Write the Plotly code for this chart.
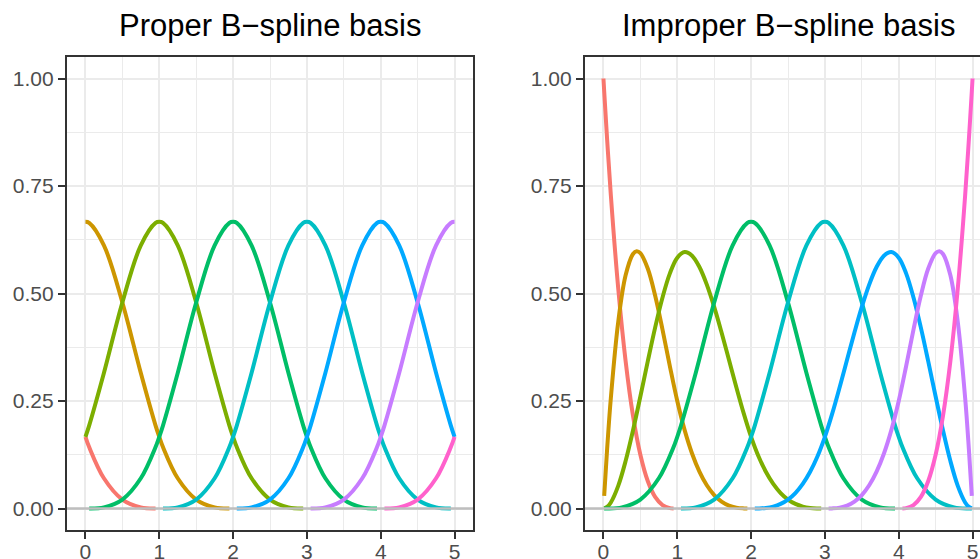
import plotly.graph_objects as go

N = None

# ---------------- data ----------------
# Left panel: proper (uniform-knot) cubic B-spline basis, 8 functions
x_proper = [0, 0.05, 0.25, 0.5, 0.75, 0.95,
            1, 1.05, 1.25, 1.5, 1.75, 1.95,
            2, 2.05, 2.25, 2.5, 2.75, 2.95,
            3, 3.05, 3.25, 3.5, 3.75, 3.95,
            4, 4.05, 4.25, 4.5, 4.75, 4.95,
            5]

proper_1 = [0.16667, 0.1429, 0.07031, 0.02083, 0.0026, 0.00002,
            N, N, N, N, N, N,
            N, N, N, N, N, N,
            N, N, N, N, N, N,
            N, N, N, N, N, N,
            N]
proper_2 = [0.66667, 0.66423, 0.61198, 0.47917, 0.3151, 0.19285,
            0.16667, 0.1429, 0.07031, 0.02083, 0.0026, 0.00002,
            N, N, N, N, N, N,
            N, N, N, N, N, N,
            N, N, N, N, N, N,
            N]
proper_3 = [0.16667, 0.19285, 0.3151, 0.47917, 0.61198, 0.66423,
            0.66667, 0.66423, 0.61198, 0.47917, 0.3151, 0.19285,
            0.16667, 0.1429, 0.07031, 0.02083, 0.0026, 0.00002,
            N, N, N, N, N, N,
            N, N, N, N, N, N,
            N]
proper_4 = [N, 0.00002, 0.0026, 0.02083, 0.07031, 0.1429,
            0.16667, 0.19285, 0.3151, 0.47917, 0.61198, 0.66423,
            0.66667, 0.66423, 0.61198, 0.47917, 0.3151, 0.19285,
            0.16667, 0.1429, 0.07031, 0.02083, 0.0026, 0.00002,
            N, N, N, N, N, N,
            N]
proper_5 = [N, N, N, N, N, N,
            N, 0.00002, 0.0026, 0.02083, 0.07031, 0.1429,
            0.16667, 0.19285, 0.3151, 0.47917, 0.61198, 0.66423,
            0.66667, 0.66423, 0.61198, 0.47917, 0.3151, 0.19285,
            0.16667, 0.1429, 0.07031, 0.02083, 0.0026, 0.00002,
            N]
proper_6 = [N, N, N, N, N, N,
            N, N, N, N, N, N,
            N, 0.00002, 0.0026, 0.02083, 0.07031, 0.1429,
            0.16667, 0.19285, 0.3151, 0.47917, 0.61198, 0.66423,
            0.66667, 0.66423, 0.61198, 0.47917, 0.3151, 0.19285,
            0.16667]
proper_7 = [N, N, N, N, N, N,
            N, N, N, N, N, N,
            N, N, N, N, N, N,
            N, 0.00002, 0.0026, 0.02083, 0.07031, 0.1429,
            0.16667, 0.19285, 0.3151, 0.47917, 0.61198, 0.66423,
            0.66667]
proper_8 = [N, N, N, N, N, N,
            N, N, N, N, N, N,
            N, N, N, N, N, N,
            N, N, N, N, N, N,
            N, 0.00002, 0.0026, 0.02083, 0.07031, 0.1429,
            0.16667]

# Right panel: improper (clamped-knot) cubic B-spline basis, 8 functions
imp_x_1 = [0, 0.01, 0.05, 0.1, 0.2, 0.3, 0.4, 0.5, 0.6, 0.7, 0.8, 0.9, 0.95]
imp_y_1 = [1, 0.9703, 0.85738, 0.729, 0.512, 0.343, 0.216, 0.125, 0.064,
           0.027, 0.008, 0.001, 0.00013]

imp_x_2 = [0.01, 0.05, 0.1, 0.2, 0.3, 0.4, 0.45, 0.5, 0.6, 0.7, 0.8, 0.9,
           1, 1.1, 1.2, 1.3, 1.4, 1.5, 1.6, 1.7, 1.8, 1.9, 1.95]
imp_y_2 = [0.02955, 0.13897, 0.25675, 0.434, 0.54225, 0.592, 0.59822,
           0.59375, 0.558, 0.49525, 0.416, 0.33075,
           0.25, 0.18225, 0.128, 0.08575, 0.054, 0.03125, 0.016, 0.00675,
           0.002, 0.00025, 0.00003]

imp_x_3 = [0.01, 0.05, 0.1, 0.2, 0.3, 0.4, 0.5, 0.6, 0.7, 0.8, 0.9,
           1, 1.1, 1.2, 1.3, 1.4, 1.5, 1.6, 1.7, 1.8, 1.9,
           2, 2.1, 2.2, 2.3, 2.4, 2.5, 2.6, 2.7, 2.8, 2.9, 2.95]
imp_y_3 = [0.00015, 0.00364, 0.01408, 0.05267, 0.11025, 0.18133, 0.26042,
           0.342, 0.42058, 0.49067, 0.54675,
           0.58333, 0.59641, 0.588, 0.56158, 0.52067, 0.46875, 0.40933,
           0.34592, 0.282, 0.22108,
           0.16667, 0.1215, 0.08533, 0.05717, 0.036, 0.02083, 0.01067,
           0.0045, 0.00133, 0.00017, 0.00002]

imp_x_4 = [0.01, 0.05, 0.25, 0.5, 0.75, 0.95,
           1, 1.05, 1.25, 1.5, 1.75, 1.95,
           2, 2.05, 2.25, 2.5, 2.75, 2.95,
           3, 3.05, 3.25, 3.5, 3.75, 3.95]
imp_y_4 = [0.0, 0.00002, 0.0026, 0.02083, 0.07031, 0.1429,
           0.16667, 0.19285, 0.3151, 0.47917, 0.61198, 0.66423,
           0.66667, 0.66423, 0.61198, 0.47917, 0.3151, 0.19285,
           0.16667, 0.1429, 0.07031, 0.02083, 0.0026, 0.00002]

imp_x_5 = [1.05, 1.25, 1.5, 1.75, 1.95,
           2, 2.05, 2.25, 2.5, 2.75, 2.95,
           3, 3.05, 3.25, 3.5, 3.75, 3.95,
           4, 4.05, 4.25, 4.5, 4.75, 4.95, 4.99]
imp_y_5 = [0.00002, 0.0026, 0.02083, 0.07031, 0.1429,
           0.16667, 0.19285, 0.3151, 0.47917, 0.61198, 0.66423,
           0.66667, 0.66423, 0.61198, 0.47917, 0.3151, 0.19285,
           0.16667, 0.1429, 0.07031, 0.02083, 0.0026, 0.00002, 0.0]

imp_x_6 = [2.05, 2.1, 2.2, 2.3, 2.4, 2.5, 2.6, 2.7, 2.8, 2.9,
           3, 3.1, 3.2, 3.3, 3.4, 3.5, 3.6, 3.7, 3.8, 3.9,
           4, 4.1, 4.2, 4.3, 4.4, 4.5, 4.6, 4.7, 4.8, 4.9, 4.95, 4.99]
imp_y_6 = [0.00002, 0.00017, 0.00133, 0.0045, 0.01067, 0.02083, 0.036,
           0.05717, 0.08533, 0.1215,
           0.16667, 0.22108, 0.282, 0.34592, 0.40933, 0.46875, 0.52067,
           0.56158, 0.588, 0.59641,
           0.58333, 0.54675, 0.49067, 0.42058, 0.342, 0.26042, 0.18133,
           0.11025, 0.05267, 0.01408, 0.00364, 0.00015]

imp_x_7 = [3.05, 3.1, 3.2, 3.3, 3.4, 3.5, 3.6, 3.7, 3.8, 3.9,
           4, 4.1, 4.2, 4.3, 4.4, 4.5, 4.55, 4.6, 4.7, 4.8, 4.9, 4.95, 4.99]
imp_y_7 = [0.00003, 0.00025, 0.002, 0.00675, 0.016, 0.03125, 0.054,
           0.08575, 0.128, 0.18225,
           0.25, 0.33075, 0.416, 0.49525, 0.558, 0.59375, 0.59822, 0.592,
           0.54225, 0.434, 0.25675, 0.13897, 0.02955]

imp_x_8 = [4.05, 4.1, 4.2, 4.3, 4.4, 4.5, 4.6, 4.7, 4.8, 4.9, 4.95, 4.99, 5]
imp_y_8 = [0.00013, 0.001, 0.008, 0.027, 0.064, 0.125, 0.216, 0.343,
           0.512, 0.729, 0.85738, 0.9703, 1]

proper_series = [proper_1, proper_2, proper_3, proper_4,
                 proper_5, proper_6, proper_7, proper_8]
improper_series = [(imp_x_1, imp_y_1), (imp_x_2, imp_y_2), (imp_x_3, imp_y_3),
                   (imp_x_4, imp_y_4), (imp_x_5, imp_y_5), (imp_x_6, imp_y_6),
                   (imp_x_7, imp_y_7), (imp_x_8, imp_y_8)]

titles = ["Proper B\u2212spline basis", "Improper B\u2212spline basis"]
x_ticks = [0, 1, 2, 3, 4, 5]
x_ticktext = ["0", "1", "2", "3", "4", "5"]
y_ticks = [0, 0.25, 0.5, 0.75, 1.0]
y_ticktext = ["0.00", "0.25", "0.50", "0.75", "1.00"]
x_minor = [0.5, 1.5, 2.5, 3.5, 4.5]
y_minor = [0.125, 0.375, 0.625, 0.875]

# ---------------- styling ----------------
colors = ["#F8766D", "#CD9600", "#7CAE00", "#00BE67",
          "#00BFC4", "#00A9FF", "#C77CFF", "#FF61CC"]
FONT = "Liberation Sans, Arial, Helvetica, sans-serif"
GRID = "#EBEBEB"
DARK = "#333333"
W, H = 980, 559


def px_x(p):
    return p / W


def px_y(p):
    return (H - p) / H


fig = go.Figure()
for ys, c in zip(proper_series, colors):
    fig.add_trace(go.Scatter(x=x_proper, y=ys, mode="lines",
                             line=dict(color=c, width=4, shape="spline"),
                             connectgaps=False, xaxis="x", yaxis="y",
                             hoverinfo="skip"))
for (xs, ys), c in zip(improper_series, colors):
    fig.add_trace(go.Scatter(x=xs, y=ys, mode="lines",
                             line=dict(color=c, width=4, shape="spline"),
                             xaxis="x2", yaxis="y2", hoverinfo="skip"))

tickfont = dict(size=21, color="#4D4D4D", family=FONT)
common = dict(showgrid=True, gridcolor=GRID, gridwidth=2.4, zeroline=False,
              showline=True, linecolor=DARK, linewidth=2.4,
              ticks="outside", ticklen=7, tickwidth=2.4, tickcolor=DARK,
              tickfont=tickfont, fixedrange=True, automargin=False)

xa = dict(common, tickmode="array", tickvals=x_ticks, ticktext=x_ticktext,
          ticklabelstandoff=-5,
          minor=dict(tickmode="array", tickvals=x_minor, showgrid=True,
                     gridcolor=GRID, gridwidth=1.2, ticks=""))
ya = dict(common, tickmode="array", tickvals=y_ticks, ticktext=y_ticktext,
          minor=dict(tickmode="array", tickvals=y_minor, showgrid=True,
                     gridcolor=GRID, gridwidth=1.2, ticks=""),
          range=[-0.05, 1.05])

ydom = [px_y(530), px_y(57)]
fig.update_layout(
    width=W, height=H, autosize=False,
    margin=dict(l=0, r=0, t=0, b=0, pad=0),
    paper_bgcolor="white", plot_bgcolor="white",
    showlegend=False,
    font=dict(family=FONT),
    xaxis=dict(xa, domain=[px_x(67), px_x(473)], range=[-0.25, 5.25],
               anchor="y", mirror=True),
    yaxis=dict(ya, domain=ydom, anchor="x", mirror=True),
    xaxis2=dict(xa, domain=[px_x(585), 1.0], range=[-0.25, 5.101],
                anchor="y2", mirror=True),
    yaxis2=dict(ya, domain=ydom, anchor="x2", mirror=False),
    shapes=[
        dict(type="line", xref="x domain", x0=0, x1=1, yref="y", y0=0, y1=0,
             line=dict(color="#BEBEBE", width=2.5), layer="above"),
        dict(type="line", xref="x2 domain", x0=0, x1=1, yref="y2", y0=0, y1=0,
             line=dict(color="#BEBEBE", width=2.5), layer="above"),
    ],
    annotations=[
        dict(text=titles[0], x=px_x(270), y=px_y(26), xref="paper", yref="paper",
             xanchor="center", yanchor="middle", showarrow=False,
             font=dict(size=31, color="black", family=FONT)),
        dict(text=titles[1], x=px_x(788), y=px_y(26), xref="paper", yref="paper",
             xanchor="center", yanchor="middle", showarrow=False,
             font=dict(size=31, color="black", family=FONT)),
    ],
)

fig.write_html(
    "out.html",
    config={"displayModeBar": False},
    post_script="document.body.style.margin='0px';"
                "document.body.style.overflow='hidden';",
)
